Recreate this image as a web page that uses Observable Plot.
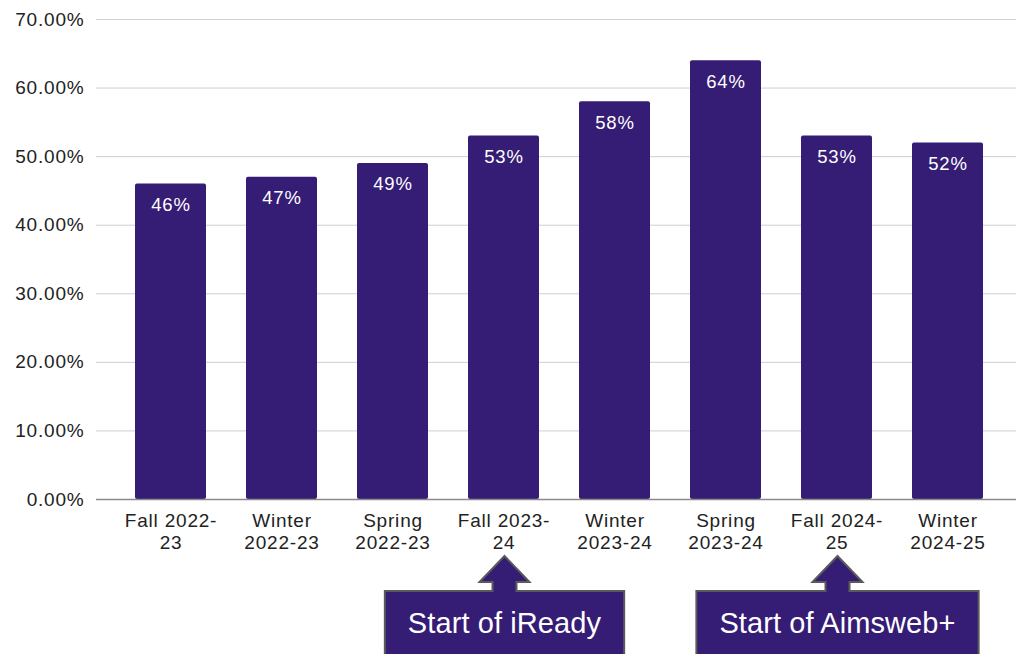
<!DOCTYPE html>
<html>
<head>
<meta charset="utf-8">
<script src="https://cdn.jsdelivr.net/npm/d3@7"></script>
<script src="https://cdn.jsdelivr.net/npm/@observablehq/plot@0.6"></script>
<style>
  html, body { margin: 0; padding: 0; background: #fff; }
  #chart { width: 1016px; height: 654px; overflow: hidden; }
</style>
</head>
<body>
<div id="chart"></div>
<script>
// ---- data ----
const categories = ["Fall 2022-23", "Winter 2022-23", "Spring 2022-23", "Fall 2023-24",
                    "Winter 2023-24", "Spring 2023-24", "Fall 2024-25", "Winter 2024-25"];
const tickLabels = ["Fall 2022-\n23", "Winter\n2022-23", "Spring\n2022-23", "Fall 2023-\n24",
                    "Winter\n2023-24", "Spring\n2023-24", "Fall 2024-\n25", "Winter\n2024-25"];
const values = [46, 47, 49, 53, 58, 64, 53, 52];
const yTicks = [0, 10, 20, 30, 40, 50, 60, 70];
const annotationCategories = ["Fall 2023-24", "Fall 2024-25"];
const annotationTexts = ["Start of iReady", "Start of Aimsweb+"];

const rows = categories.map((c, i) => ({cat: c, label: tickLabels[i], value: values[i]}));

const FONT = "'Liberation Sans', Arial, Helvetica, sans-serif";
const BAR = "#351c75";

const plot = Plot.plot({
  width: 1016,
  height: 654,
  marginTop: 19,
  marginBottom: 155,
  marginLeft: 96,
  marginRight: 0,
  style: {fontFamily: FONT, fontSize: "19px", color: "#222", background: "#fff", letterSpacing: "0.8px"},
  x: {domain: categories, range: [114, 1005], paddingInner: 0.36, paddingOuter: 0.18, axis: null},
  y: {domain: [0, 70], ticks: yTicks, tickFormat: d => d3.format(".2%")(d / 100),
      tickSize: 0, tickPadding: 12, label: null},
  marks: [
    Plot.ruleY(yTicks.filter(d => d > 0), {stroke: "#cfcfcf", strokeWidth: 1}),
    Plot.barY(rows, {x: "cat", y: "value", fill: BAR, rx: 2}),
    Plot.ruleY([0], {stroke: "#8a8a8a", strokeWidth: 1.5}),
    Plot.text(rows, {x: "cat", y: "value", text: d => d.value + "%", dy: 21,
                     fill: "#fff", fontSize: 18.5, style: {letterSpacing: "0.2px"}}),
    Plot.text(rows, {x: "cat", y: 0, text: "label", lineAnchor: "top", dy: 12,
                     lineHeight: 1.16, fill: "#222", fontSize: 19})
  ]
});

document.getElementById("chart").appendChild(plot);

// ---- annotation call-outs placed via the x scale ----
const xs = plot.scale("x");
const svg = d3.select(plot);
const tipY = 556, headY = 582, boxTop = 591, boxBottom = 680;
annotationCategories.forEach((cat, i) => {
  const cx = xs.apply(cat) + xs.bandwidth / 2 + 1;
  const g = svg.append("g");
  const t = g.append("text")
    .attr("x", cx).attr("y", 633)
    .attr("text-anchor", "middle")
    .attr("fill", "#fff")
    .style("font-family", FONT)
    .style("font-size", "29px")
    .style("letter-spacing", "0.1px")
    .text(annotationTexts[i]);
  const w = t.node().getComputedTextLength();
  const half = w / 2 + 23;
  const L = cx - half, R = cx + half;
  const path = [
    [L, boxTop], [cx - 12, boxTop], [cx - 12, headY], [cx - 25, headY], [cx, tipY],
    [cx + 25, headY], [cx + 12, headY], [cx + 12, boxTop], [R, boxTop], [R, boxBottom], [L, boxBottom]
  ];
  g.insert("path", "text")
    .attr("d", "M" + path.map(p => p.join(",")).join("L") + "Z")
    .attr("fill", BAR)
    .attr("stroke", "#5a5a5a")
    .attr("stroke-width", 2)
    .attr("stroke-linejoin", "miter");
});
</script>
</body>
</html>
